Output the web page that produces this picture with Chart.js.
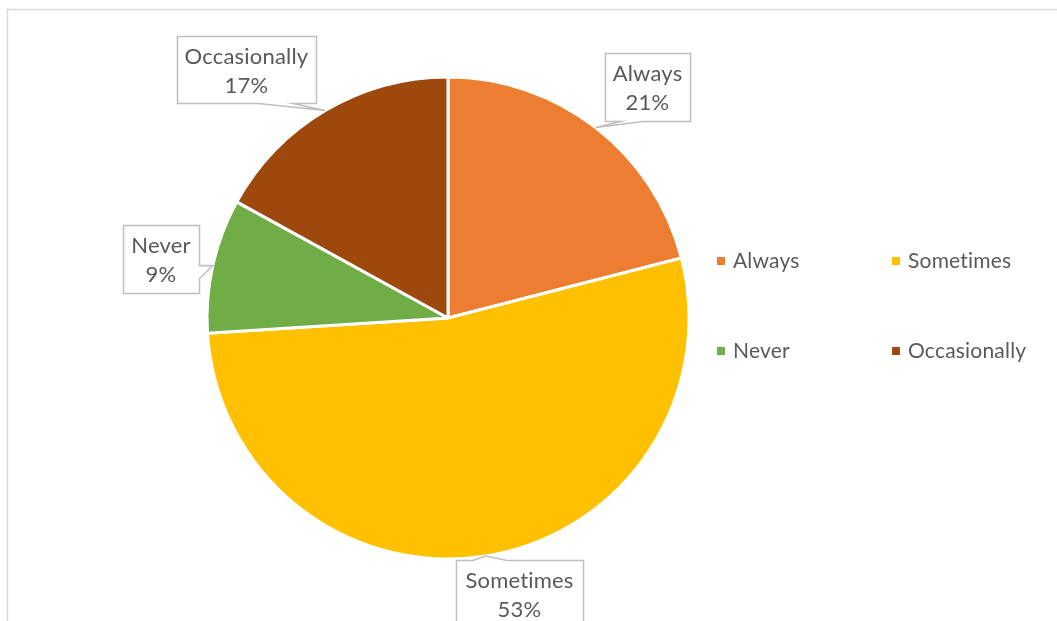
<!DOCTYPE html>
<html>
<head>
<meta charset="utf-8">
<script src="https://cdn.jsdelivr.net/npm/chart.js@4"></script>
<style>
  html, body { margin: 0; background: #fff; }
  #wrap { width: 1057px; height: 621px; position: relative; overflow: hidden; }
</style>
</head>
<body>
<div id="wrap"><canvas id="pie" width="1057" height="621"></canvas></div>
<script>
const categories = ['Always', 'Sometimes', 'Never', 'Occasionally'];
const shares = [21, 53, 9, 17];
const sliceColors = ['#ED7D31', '#FFC000', '#70AD47', '#9E480E'];

// callout boxes: box rect, the edge the pointer leaves from and the base span on that edge (0..1)
const callouts = [
  { x: 605, y: 53, w: 85, h: 68, edge: 'bottom', from: 0.18, to: 0.44 },
  { x: 456, y: 560, w: 127, h: 68, edge: 'top', from: 0.13, to: 0.40 },
  { x: 123, y: 225, w: 76, h: 68, edge: 'right', from: 0.59, to: 0.78 },
  { x: 177, y: 36, w: 139, h: 67, edge: 'bottom', from: 0.58, to: 0.83 }
];

// legend grid: two columns, two rows
const legendCols = [717, 892];
const legendRows = [261, 351];

const TEXT = '#595959';

function calloutPath(ctx, c, tip) {
  const x = c.x + 0.5, y = c.y + 0.5;
  const r = x + c.w, b = y + c.h;
  ctx.beginPath();
  ctx.moveTo(x, y);
  if (c.edge === 'top') {
    ctx.lineTo(x + c.w * c.from, y);
    ctx.lineTo(tip.x, tip.y);
    ctx.lineTo(x + c.w * c.to, y);
  }
  ctx.lineTo(r, y);
  if (c.edge === 'right') {
    ctx.lineTo(r, y + c.h * c.from);
    ctx.lineTo(tip.x, tip.y);
    ctx.lineTo(r, y + c.h * c.to);
  }
  ctx.lineTo(r, b);
  if (c.edge === 'bottom') {
    ctx.lineTo(x + c.w * c.to, b);
    ctx.lineTo(tip.x, tip.y);
    ctx.lineTo(x + c.w * c.from, b);
  }
  ctx.lineTo(x, b);
  ctx.closePath();
}

const calloutPlugin = {
  id: 'callouts',
  afterDatasetsDraw(chart) {
    const ctx = chart.ctx;
    const meta = chart.getDatasetMeta(0);
    const total = shares.reduce((a, b) => a + b, 0);
    ctx.save();
    meta.data.forEach((arc, i) => {
      const p = arc.getProps(['x', 'y', 'startAngle', 'endAngle', 'outerRadius'], true);
      const mid = (p.startAngle + p.endAngle) / 2;
      const tip = { x: p.x + Math.cos(mid) * p.outerRadius, y: p.y + Math.sin(mid) * p.outerRadius };
      const c = callouts[i];
      calloutPath(ctx, c, tip);
      ctx.fillStyle = '#fff';
      ctx.fill();
      ctx.strokeStyle = '#BFBFBF';
      ctx.lineWidth = 1.5;
      ctx.stroke();

      ctx.fillStyle = TEXT;
      ctx.font = '22px Lato';
      ctx.letterSpacing = '0.2px'; // also keeps Lato from joining "ti"
      ctx.textAlign = 'center';
      ctx.textBaseline = 'alphabetic';
      const cx = c.x + c.w / 2;
      ctx.fillText(categories[i], cx, c.y + 28);
      ctx.fillText(Math.round(shares[i] / total * 100) + '%', cx, c.y + 57);
    });
    ctx.restore();
  }
};

const legendPlugin = {
  id: 'gridLegend',
  afterDraw(chart) {
    const ctx = chart.ctx;
    ctx.save();
    // outer frame
    ctx.strokeStyle = '#D9D9D9';
    ctx.lineWidth = 1.5;
    ctx.strokeRect(7.5, 9.5, 1200, 800);

    ctx.font = '21px Lato';
    ctx.letterSpacing = '0.2px';
    ctx.textAlign = 'left';
    ctx.textBaseline = 'middle';
    categories.forEach((name, i) => {
      const lx = legendCols[i % 2];
      const ly = legendRows[Math.floor(i / 2)];
      ctx.fillStyle = sliceColors[i];
      ctx.fillRect(lx, ly - 4, 8, 8);
      ctx.fillStyle = TEXT;
      ctx.fillText(name, lx + 16, ly);
    });
    ctx.restore();
  }
};

new Chart(document.getElementById('pie'), {
  type: 'pie',
  data: {
    labels: categories,
    datasets: [{
      data: shares,
      backgroundColor: sliceColors,
      borderColor: '#fff',
      borderWidth: 3,
      hoverOffset: 0
    }]
  },
  options: {
    responsive: false,
    animation: false,
    radius: 241,
    layout: { padding: { left: 200, right: 361, top: 70, bottom: 55 } },
    plugins: {
      legend: { display: false },
      tooltip: { enabled: false }
    }
  },
  plugins: [calloutPlugin, legendPlugin]
});
</script>
</body>
</html>
